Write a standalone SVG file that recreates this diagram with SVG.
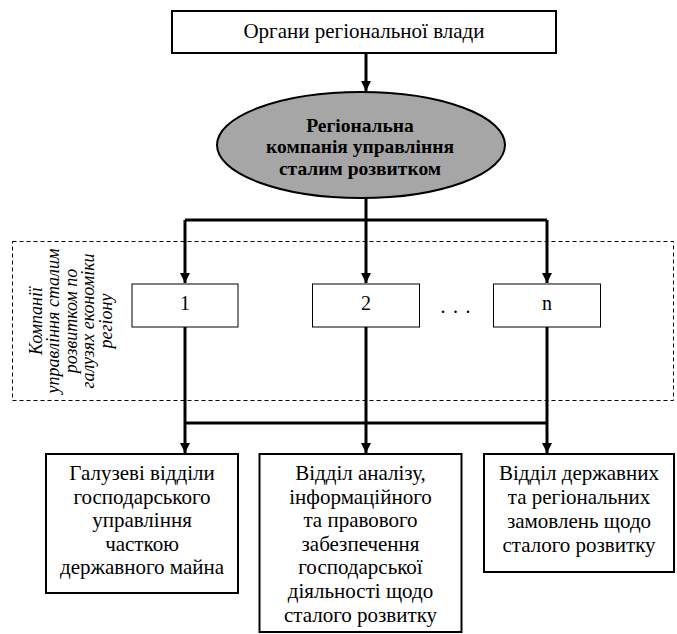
<svg xmlns="http://www.w3.org/2000/svg" width="677" height="634" viewBox="0 0 677 634">
<defs>
<marker id="ah" markerUnits="userSpaceOnUse" markerWidth="12" markerHeight="12" viewBox="0 0 12 12" refX="10" refY="6" orient="auto">
<path d="M0,1 L10,6 L0,11 Z" fill="#000"/>
</marker>
</defs>
<style>
text{font-family:"Liberation Serif","Times New Roman",serif;fill:#000}
.t20{font-size:20px}
.t21{font-size:21px}
.thin{fill:#fff;stroke:#000;stroke-width:1}
.thick{fill:#fff;stroke:#000;stroke-width:2}
.conn{fill:none;stroke:#000;stroke-width:3}
.arr{marker-end:url(#ah)}
</style>
<rect width="677" height="634" fill="#fff"/>
<g id="group-frame">
<rect x="12.5" y="241.5" width="661" height="159" fill="none" stroke="#000" stroke-width="1" stroke-dasharray="4,3"/>
<text transform="translate(0,321) rotate(-90)" text-anchor="middle" font-style="italic" font-size="18"><tspan x="0" y="41.5">Компанії</tspan><tspan x="0" y="59">управління сталим</tspan><tspan x="0" y="76.5">розвитком по</tspan><tspan x="0" y="94">галузях економіки</tspan><tspan x="0" y="111.5">регіону</tspan></text>
</g>
<g id="connectors">
<path class="conn arr" d="M366,54 V91"/>
<path class="conn" d="M185,220 H547"/>
<path class="conn arr" d="M366,198 V283"/>
<path class="conn arr" d="M185,220 V283"/>
<path class="conn arr" d="M547,220 V283"/>
<path class="conn" d="M185,423 H547"/>
<path class="conn arr" d="M185,327 V453"/>
<path class="conn arr" d="M366,327 V453"/>
<path class="conn arr" d="M547,327 V453"/>
</g>
<g id="node-authorities">
<rect class="thick" x="172" y="11" width="384" height="42"/>
<text class="t21" x="364" y="37.5" text-anchor="middle">Органи регіональної влади</text>
</g>
<g id="node-company">
<ellipse cx="361" cy="145" rx="144" ry="53" fill="#a6a6a6" stroke="#000" stroke-width="2"/>
<text text-anchor="middle" font-weight="bold" font-size="19.5"><tspan x="360" y="131.5">Регіональна</tspan><tspan x="360" y="153">компанія управління</tspan><tspan x="360" y="174.5">сталим розвитком</tspan></text>
</g>
<g id="node-1">
<rect class="thin" x="132" y="284" width="106" height="43"/>
<text class="t20" x="185" y="310" text-anchor="middle">1</text>
</g>
<g id="node-2">
<rect class="thin" x="312.5" y="284" width="107" height="43"/>
<text class="t20" x="366" y="310" text-anchor="middle">2</text>
</g>
<g id="node-dots">
<text class="t20" x="440.5" y="313" letter-spacing="1.25">. . .</text>
</g>
<g id="node-n">
<rect class="thin" x="493.5" y="284" width="107" height="43"/>
<text class="t20" x="547" y="310" text-anchor="middle">n</text>
</g>
<g id="node-branch">
<rect class="thick" x="46" y="454" width="192" height="139"/>
<text class="t21" text-anchor="middle"><tspan x="142" y="480">Галузеві  відділи</tspan><tspan x="142" y="503.5">господарського</tspan><tspan x="142" y="527">управління</tspan><tspan x="142" y="550.5">часткою</tspan><tspan x="142" y="574">державного майна</tspan></text>
</g>
<g id="node-analysis">
<rect class="thick" x="259.5" y="454" width="202" height="178"/>
<text class="t21" text-anchor="middle"><tspan x="360.5" y="480">Відділ аналізу,</tspan><tspan x="360.5" y="503.6">інформаційного</tspan><tspan x="360.5" y="527.2">та правового</tspan><tspan x="360.5" y="550.8">забезпечення</tspan><tspan x="360.5" y="574.4">господарської</tspan><tspan x="360.5" y="598">діяльності щодо</tspan><tspan x="360.5" y="621.6">сталого розвитку</tspan></text>
</g>
<g id="node-orders">
<rect class="thick" x="484" y="454" width="190" height="118"/>
<text class="t21" text-anchor="middle"><tspan x="579" y="480">Відділ державних</tspan><tspan x="579" y="504">та регіональних</tspan><tspan x="579" y="528">замовлень щодо</tspan><tspan x="579" y="552">сталого розвитку</tspan></text>
</g>
</svg>
